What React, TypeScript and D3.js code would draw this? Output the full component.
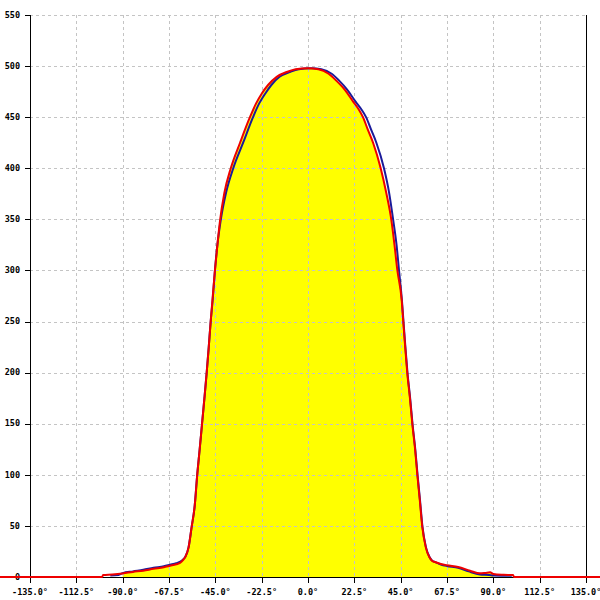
import React from "react";
import * as d3 from "d3";

// Red series (angle in degrees, value)
const redAngles = [-180, -100, -99.5, -95, -90, -85, -80, -75, -70, -67, -64, -62, -60.5, -59.5, -58, -56.5, -55, -53.8, -52.6, -51.5, -50.3, -49.2, -48.2, -47.3, -46.4, -45.2, -44, -42.7, -40.6, -37.5, -33, -28.2, -25.2, -22.5, -19.4, -15.2, -10, -6, 0, 5, 10, 13.6, 17.8, 22, 24.5, 26.7, 29, 31.6, 35.3, 38, 40.5, 42, 43.4, 45.5, 46.3, 47.2, 48.2, 49.5, 50.7, 52, 53.1, 54.3, 55.5, 57.2, 58.9, 60.2, 61.7, 64.5, 67.4, 72.9, 78.7, 83.5, 86, 88.4, 90, 95, 99.6, 100, 180];
const redValues = [0, 0, 2, 2.5, 3.5, 5, 6.2, 8, 9.5, 11, 12.5, 14, 17, 20, 29, 49, 70, 100, 125, 149, 175, 200, 225, 249, 271, 300, 325, 349, 376, 400, 425, 450, 463.5, 473, 481.5, 489.5, 494.5, 497, 498, 497, 492.5, 486, 477, 465, 458, 450, 438, 425, 400, 376, 349, 325, 300, 271, 249, 225, 200, 175, 149, 125, 100, 75, 49, 29, 19.6, 16, 14.7, 12.8, 11.5, 9.8, 6.2, 3.6, 4, 4.6, 3, 2.2, 1.9, 0, 0];

// Blue series
const blueAngles = [-96, -92, -90, -85, -80, -75, -70, -67, -64, -62, -60.5, -59.5, -58, -56.5, -55, -53.8, -52.6, -51.5, -50.3, -49.2, -48.2, -47.3, -46.3, -45.2, -44, -42.4, -39.8, -36.3, -31.5, -26.7, -23.7, -20.8, -17.8, -13.8, -8.5, -4.5, 1.5, 6.5, 11.5, 15, 19, 23.2, 25.8, 28.2, 30.6, 33.2, 36.9, 39.4, 41.4, 43, 44.2, 45.6, 46.4, 47.3, 48.3, 49.6, 50.8, 52.1, 53.2, 54.4, 55.6, 57.3, 59, 60.3, 61.8, 64.5, 67.4, 72.9, 78, 83.5, 88, 90, 95, 99];
const blueValues = [1.5, 2, 3.8, 5.5, 7, 9, 10.5, 12, 13.5, 15, 17.5, 20, 29, 49, 70, 100, 125, 149, 175, 200, 225, 249, 271, 300, 325, 349, 376, 400, 425, 450, 463.5, 473, 481.5, 489.5, 494.5, 497, 498, 497, 492.5, 486, 477, 465, 458, 450, 438, 425, 400, 376, 349, 325, 300, 271, 249, 225, 200, 175, 149, 125, 100, 75, 49, 29, 19.6, 16, 14.5, 12.3, 10.8, 9, 5.5, 2.5, 2, 1.5, 1.3, 1.2];

const xTicks = [-135, -112.5, -90, -67.5, -45, -22.5, 0, 22.5, 45, 67.5, 90, 112.5, 135];
const yTicks = [0, 50, 100, 150, 200, 250, 300, 350, 400, 450, 500, 550];
const fillRange = [-90, 90];

type P = [number, number];

export default function App() {
  const left = 30, right = 586, top = 15, bottom = 577;
  const x = d3.scaleLinear().domain([-135, 135]).range([left, right]);
  const y = d3.scaleLinear().domain([0, 550]).range([bottom, top]);
  const px = (v: number) => Math.round(v) + 0.5;

  const red: P[] = redAngles.map((a, i) => [a, redValues[i]]);
  const blue: P[] = blueAngles.map((a, i) => [a, blueValues[i]]);
  const fillPts = red.filter((p) => p[0] >= fillRange[0] && p[0] <= fillRange[1]);

  const line = d3
    .line<P>()
    .x((d) => x(d[0]))
    .y((d) => y(d[1]))
    .curve(d3.curveMonotoneX);
  const area = d3
    .area<P>()
    .x((d) => x(d[0]))
    .y0(y(0))
    .y1((d) => y(d[1]))
    .curve(d3.curveMonotoneX);

  const font = "'DejaVu Sans Mono', monospace";

  return (
    <svg
      width={600}
      height={600}
      style={{ position: "fixed", left: 0, top: 0, display: "block", background: "#fff" }}
    >
      <path d={area(fillPts) || ""} fill="#ffff00" />
      {/* grid */}
      {xTicks.slice(1, -1).map((t) => (
        <line key={"gx" + t} x1={px(x(t))} x2={px(x(t))} y1={top} y2={bottom} stroke="#c4c4c4" strokeDasharray="3,3" />
      ))}
      {yTicks.slice(1).map((t) => (
        <line key={"gy" + t} x1={left} x2={right} y1={px(y(t))} y2={px(y(t))} stroke="#c4c4c4" strokeDasharray="3,3" />
      ))}
      {/* axes */}
      <line x1={px(left)} x2={px(left)} y1={top} y2={bottom + 6} stroke="#000" />
      <line x1={px(right)} x2={px(right)} y1={top} y2={bottom + 6} stroke="#000" />
      <line x1={left} x2={right} y1={px(bottom)} y2={px(bottom)} stroke="#000" />
      {yTicks.map((t) => (
        <g key={"yt" + t}>
          <line x1={left - 5} x2={left} y1={px(y(t))} y2={px(y(t))} stroke="#000" />
          <text x={20} y={y(t)} dy="0.32em" textAnchor="end" fontFamily={font} fontSize={8.5} fontWeight="bold" fill="#000">
            {t}
          </text>
        </g>
      ))}
      {xTicks.map((t) => (
        <g key={"xt" + t}>
          <line x1={px(x(t))} x2={px(x(t))} y1={bottom} y2={bottom + 6} stroke="#000" />
          <text x={x(t)} y={592} dy="0.32em" textAnchor="middle" fontFamily={font} fontSize={8.5} fontWeight="bold" fill="#000">
            {t.toFixed(1) + "°"}
          </text>
        </g>
      ))}
      <path d={line(blue) || ""} fill="none" stroke="#1a1a9a" strokeWidth={2} />
      <path d={line(red) || ""} fill="none" stroke="#ee0000" strokeWidth={2} />
    </svg>
  );
}
